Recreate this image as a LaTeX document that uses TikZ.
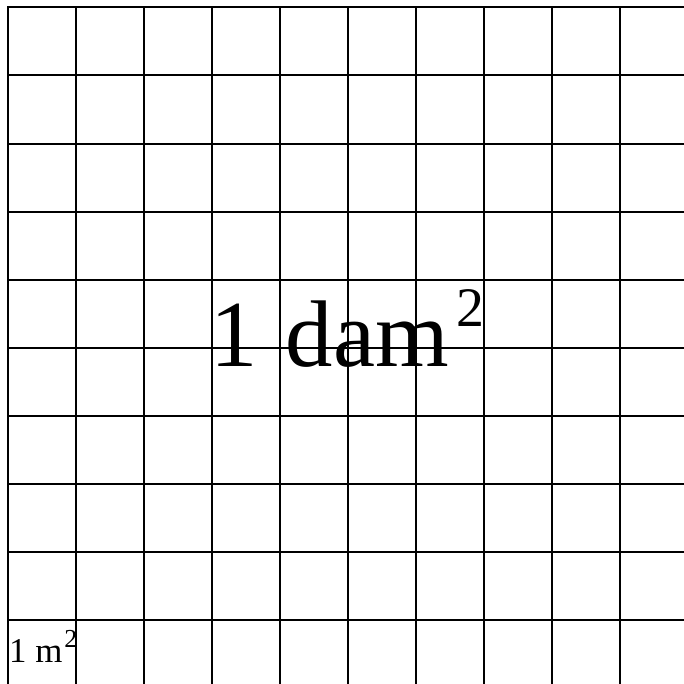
\documentclass[tikz,border=0pt]{standalone}
\usepackage{fontspec}
\setmainfont{Liberation Serif}
\tikzset{gridline/.style={line width=2bp, line cap=rect, black}}
\begin{document}
\begin{tikzpicture}[x=1bp,y=-1bp]
\useasboundingbox (0,0) rectangle (684,684);
\begin{scope}
\clip (0,0) rectangle (684,684);
\foreach \i in {0,...,10} {
  \draw[gridline] (7.5+68*\i,7.5) -- (7.5+68*\i,700);
  \draw[gridline] (7.5,7.5+68*\i) -- (700,7.5+68*\i);
}
\end{scope}
\node[anchor=base, inner sep=0pt] (big) at (347,366) {\fontsize{95}{95}\selectfont 1\hspace{5bp} dam\hspace{7bp}\raisebox{40bp}{\fontsize{56}{56}\selectfont 2}};
\node[anchor=base west, inner sep=0pt] (small) at (9,662) {\fontsize{35}{35}\selectfont 1 m\hspace{2bp}\raisebox{15bp}{\fontsize{26}{26}\selectfont 2}};
\end{tikzpicture}
\end{document}
